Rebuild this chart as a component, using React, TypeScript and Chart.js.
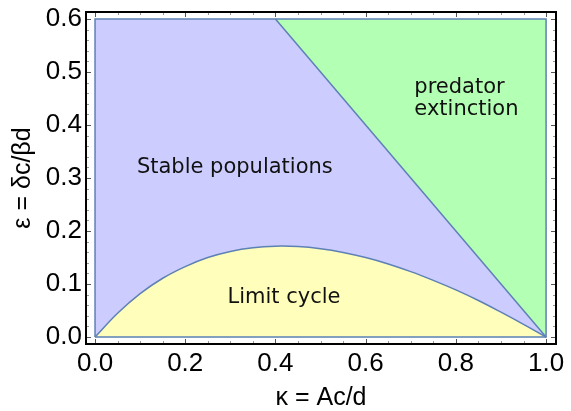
import React, { useEffect, useRef } from "react";
import { Chart, registerables } from "chart.js";

Chart.register(...registerables);

// Boundary of the limit-cycle region
const curveKappa = [0, 0.05, 0.1, 0.15, 0.2, 0.25, 0.3, 0.35, 0.4, 0.45, 0.5, 0.55, 0.6, 0.65, 0.7, 0.75, 0.8, 0.85, 0.9, 0.95, 1.0];
const curveEps = [0, 0.045, 0.082, 0.111, 0.133, 0.15, 0.1615, 0.1685, 0.1714, 0.1707, 0.1667, 0.1597, 0.15, 0.138, 0.1235, 0.107, 0.089, 0.069, 0.047, 0.024, 0];

// Boundary of predator extinction region
const lineKappa = [0.4, 1.0];
const lineEps = [0.6, 0.0];

// Domain
const kappaRange = [0, 1];
const epsRange = [0, 0.6];

// Tick values
const xMajor = [0, 0.2, 0.4, 0.6, 0.8, 1.0];
const xMinor = [0.05, 0.1, 0.15, 0.25, 0.3, 0.35, 0.45, 0.5, 0.55, 0.65, 0.7, 0.75, 0.85, 0.9, 0.95];
const yMajor = [0, 0.1, 0.2, 0.3, 0.4, 0.5, 0.6];
const yMinor = [0.02, 0.04, 0.06, 0.08, 0.12, 0.14, 0.16, 0.18, 0.22, 0.24, 0.26, 0.28, 0.32, 0.34, 0.36, 0.38, 0.42, 0.44, 0.46, 0.48, 0.52, 0.54, 0.56, 0.58];

// Region labels
const labelTexts = [["Stable populations"], ["Limit cycle"], ["predator", "extinction"]];
const labelKappa = [0.31, 0.419, 0.708];
const labelEps = [0.319, 0.074, 0.449];
const labelAlign: CanvasTextAlign[] = ["center", "center", "left"];

const BLUE = "rgb(94,129,181)";
const PURPLE = "rgb(204,204,255)";
const GREEN = "rgb(179,255,179)";
const YELLOW = "rgb(255,255,187)";

const framePlugin = {
  id: "framePlugin",
  afterDraw(chart: any) {
    const { ctx, chartArea } = chart;
    const { left, right, top, bottom } = chartArea;
    const xs = chart.scales.x;
    const ys = chart.scales.y;
    ctx.save();
    // region labels
    ctx.fillStyle = "#111";
    ctx.font = '21px "DejaVu Sans"';
    ctx.textBaseline = "middle";
    labelTexts.forEach((lines, i) => {
      const px = xs.getPixelForValue(labelKappa[i]);
      const py = ys.getPixelForValue(labelEps[i]);
      ctx.textAlign = labelAlign[i];
      const lh = 22;
      lines.forEach((t, j) => {
        ctx.fillText(t, px, py + (j - (lines.length - 1) / 2) * lh);
      });
    });
    // ticks
    const drawX = (vals: number[], len: number, color: string, w: number) => {
      ctx.strokeStyle = color;
      ctx.lineWidth = w;
      vals.forEach((v) => {
        const p = Math.round(xs.getPixelForValue(v)) + 0.5;
        ctx.beginPath();
        ctx.moveTo(p, bottom);
        ctx.lineTo(p, bottom - len);
        ctx.moveTo(p, top);
        ctx.lineTo(p, top + len);
        ctx.stroke();
      });
    };
    const drawY = (vals: number[], len: number, color: string, w: number) => {
      ctx.strokeStyle = color;
      ctx.lineWidth = w;
      vals.forEach((v) => {
        const p = Math.round(ys.getPixelForValue(v)) + 0.5;
        ctx.beginPath();
        ctx.moveTo(left, p);
        ctx.lineTo(left + len, p);
        ctx.moveTo(right, p);
        ctx.lineTo(right - len, p);
        ctx.stroke();
      });
    };
    drawX(xMinor, 3, "#999", 1);
    drawY(yMinor, 3, "#999", 1);
    drawX(xMajor, 5, "#555", 1);
    drawY(yMajor, 5, "#555", 1);
    // frame
    ctx.strokeStyle = "#000";
    ctx.lineWidth = 2;
    ctx.strokeRect(left, top, right - left, bottom - top);
    ctx.restore();
  },
};

export default function App() {
  const ref = useRef<HTMLCanvasElement | null>(null);
  useEffect(() => {
    document.body.style.margin = "0";
    const canvas = ref.current!;
    const pts = (xs: number[], ys: number[]) => xs.map((x, i) => ({ x, y: ys[i] }));
    const chart = new Chart(canvas, {
      type: "scatter",
      data: {
        datasets: [
          {
            data: [
              { x: kappaRange[0], y: epsRange[1] },
              { x: kappaRange[1], y: epsRange[1] },
            ],
            showLine: true,
            borderWidth: 0,
            pointRadius: 0,
            backgroundColor: PURPLE,
            fill: "origin",
            order: 4,
          },
          {
            data: pts(curveKappa, curveEps),
            showLine: true,
            borderColor: BLUE,
            borderWidth: 1.5,
            pointRadius: 0,
            backgroundColor: YELLOW,
            fill: "origin",
            tension: 0.4,
            order: 3,
          },
          {
            data: pts(lineKappa, lineEps),
            showLine: true,
            borderColor: BLUE,
            borderWidth: 1.5,
            pointRadius: 0,
            backgroundColor: GREEN,
            fill: { value: epsRange[1] },
            order: 2,
          },
          {
            data: [
              { x: kappaRange[0], y: epsRange[0] },
              { x: kappaRange[0], y: epsRange[1] },
              { x: kappaRange[1], y: epsRange[1] },
              { x: kappaRange[1], y: epsRange[0] },
              { x: kappaRange[0], y: epsRange[0] },
            ],
            showLine: true,
            borderColor: BLUE,
            borderWidth: 1.5,
            pointRadius: 0,
            fill: false,
            order: 1,
          },
        ],
      } as any,
      options: {
        animation: false,
        responsive: false,
        maintainAspectRatio: false,
        layout: { padding: { top: 12, right: 15, left: 0, bottom: 0 }, autoPadding: false } as any,
        plugins: { legend: { display: false }, tooltip: { enabled: false } },
        scales: {
          x: {
            type: "linear",
            min: -0.02,
            max: 1.022,
            grid: { display: false, drawTicks: false },
            border: { display: false },
            afterBuildTicks: (s: any) => {
              s.ticks = xMajor.map((v) => ({ value: v }));
            },
            afterFit: (s: any) => {
              s.height = 67;
              s.paddingLeft = 0;
              s.paddingRight = 0;
            },
            ticks: {
              padding: 4,
              color: "#000",
              font: { family: '"Liberation Sans"', size: 26 },
              callback: (v: any) => Number(v).toFixed(1),
              maxRotation: 0,
            },
            title: {
              display: true,
              text: "κ = Ac/d",
              color: "#000",
              font: { family: '"Liberation Sans"', size: 25 },
              padding: { top: 0, bottom: -2 },
            },
          },
          y: {
            type: "linear",
            min: -0.013,
            max: 0.613,
            grid: { display: false, drawTicks: false },
            border: { display: false },
            afterBuildTicks: (s: any) => {
              s.ticks = yMajor.map((v) => ({ value: v }));
            },
            afterFit: (s: any) => {
              s.width = 86;
              s.paddingTop = 0;
              s.paddingBottom = 0;
            },
            ticks: {
              padding: 4,
              color: "#000",
              font: { family: '"Liberation Sans"', size: 26 },
              callback: (v: any) => Number(v).toFixed(1),
            },
            title: {
              display: true,
              text: "ε = δc/βd",
              color: "#000",
              font: { family: '"Liberation Sans"', size: 25 },
              padding: { top: 8, bottom: 0 },
            },
          },
        },
      },
      plugins: [framePlugin],
    });
    return () => chart.destroy();
  }, []);
  return <canvas ref={ref} width={571} height={411} style={{ display: "block" }} />;
}
